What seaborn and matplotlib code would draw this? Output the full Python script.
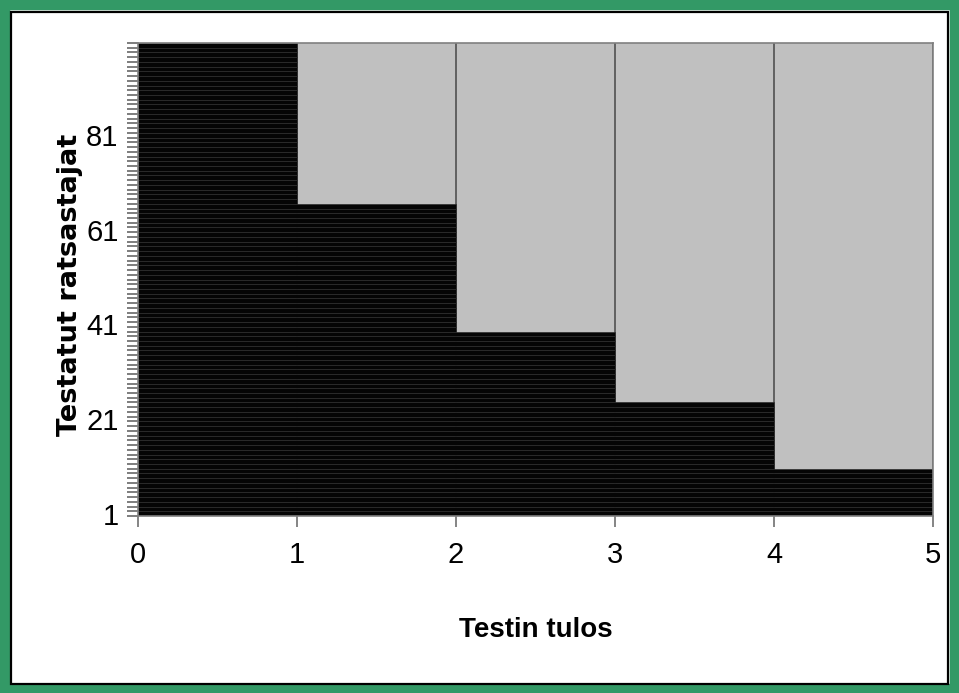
import numpy as np
import pandas as pd
import matplotlib
matplotlib.use("Agg")
import matplotlib.pyplot as plt
from matplotlib.patches import Rectangle
from matplotlib.ticker import FixedLocator
import seaborn as sns

# Test results of the riders: how many riders got each score
scores = [5, 4, 3, 2, 1]
riders_per_score = [10, 14, 15, 27, 34]
x_ticks = [0, 1, 2, 3, 4, 5]
y_tick_labels = [1, 21, 41, 61, 81]

result = np.repeat(scores, riders_per_score)
rider = np.arange(1, len(result) + 1)
df = pd.DataFrame({"rider": rider, "Testin tulos": result})

sns.set_theme(style="white")
arial_like = ["Liberation Sans", "DejaVu Sans"]
plt.rcParams["font.family"] = arial_like
plt.rcParams["text.color"] = "black"
plt.rcParams["axes.labelcolor"] = "black"
plt.rcParams["xtick.color"] = "black"
plt.rcParams["ytick.color"] = "black"

fig = plt.figure(figsize=(9.59, 6.93), dpi=100)
fig.patch.set_facecolor("white")

# green frame with a thin black inner line
fig.add_artist(Rectangle((0, 0), 1, 1, transform=fig.transFigure,
                         facecolor="none", edgecolor="#339966",
                         linewidth=14, zorder=0))
fig.add_artist(Rectangle((10.5 / 959, 9.5 / 693), 937 / 959, 672 / 693,
                         transform=fig.transFigure, facecolor="none",
                         edgecolor="black", linewidth=1.6, zorder=1))

ax = fig.add_axes([138 / 959, 1 - 516 / 693, 795 / 959, 473 / 693])
ax.set_facecolor("#C0C0C0")

sns.barplot(data=df, x="Testin tulos", y="rider", orient="y",
            native_scale=True, width=1, color="#050505", saturation=1,
            edgecolor="#2e2e2e", linewidth=0.5, errorbar=None, ax=ax)

ax.set_xlim(0, 5)
ax.set_ylim(0.5, len(result) + 0.5)

# vertical gridlines behind the bars
ax.set_axisbelow(True)
ax.xaxis.grid(True, color="#5a5a5a", linewidth=1.3)
ax.yaxis.grid(False)

ax.set_xticks(x_ticks)
ax.set_xticklabels([str(v) for v in x_ticks])
ax.tick_params(axis="x", direction="out", length=8, width=1.2,
               color="#707070", labelcolor="black", pad=10, labelsize=21,
               bottom=True)

ax.set_yticks(y_tick_labels)
ax.set_yticklabels([str(v) for v in y_tick_labels])
ax.yaxis.set_minor_locator(FixedLocator(np.arange(0.5, len(result) + 1, 1)))
ax.tick_params(axis="y", which="major", length=0, pad=14, labelsize=21,
               labelcolor="black", left=True)
ax.tick_params(axis="y", which="minor", direction="out", length=8, width=1.1,
               color="#5a5a5a", left=True)

for side in ["left", "bottom", "top", "right"]:
    ax.spines[side].set_visible(True)
    ax.spines[side].set_color("#808080")
    ax.spines[side].set_linewidth(1.2)

ax.set_xlabel("Testin tulos", fontsize=20, fontweight="bold",
              family=arial_like, color="black")
ax.set_ylabel("Testatut ratsastajat", fontsize=19.5, fontweight="bold",
              family=["DejaVu Sans"], color="black")
ax.xaxis.set_label_coords(0.5, -0.24)
ax.yaxis.set_label_coords(-0.086, 0.488)
ax.xaxis.label.set_va("center")
ax.yaxis.label.set_va("center")

fig.savefig("out.png", dpi=100, facecolor=fig.get_facecolor())
